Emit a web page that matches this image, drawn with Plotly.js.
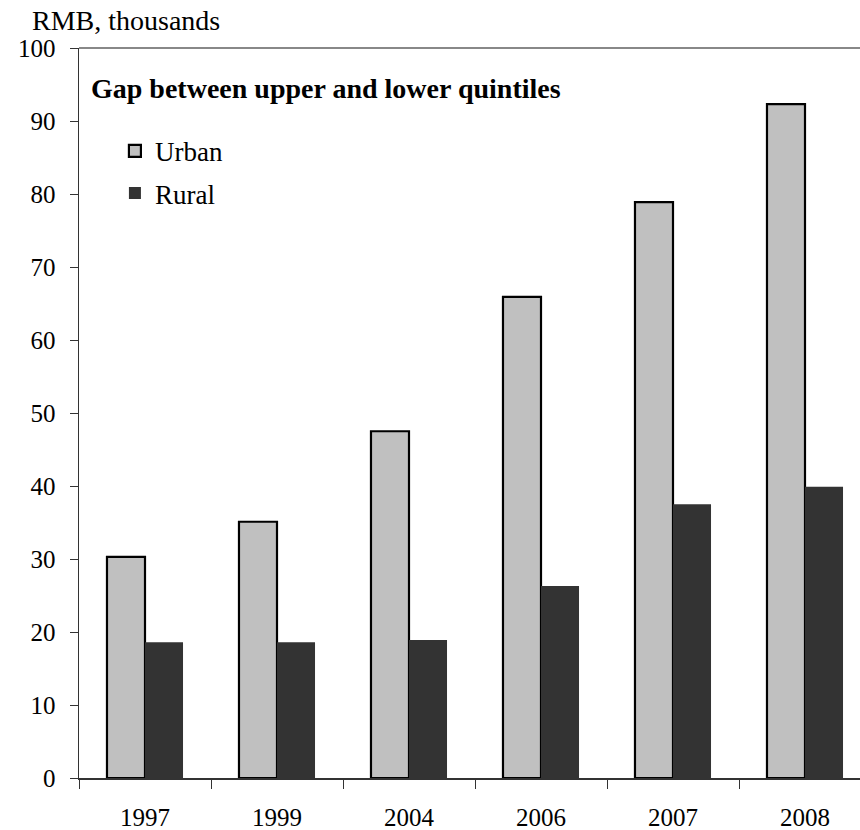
<!DOCTYPE html>
<html>
<head>
<meta charset="utf-8">
<script src="https://cdn.plot.ly/plotly-3.0.1.min.js"></script>
<style>
  html, body { margin: 0; padding: 0; background: #ffffff; }
  #chart { width: 860px; height: 830px; }
</style>
</head>
<body>
<div id="chart"></div>
<script>
// Data (RMB, thousands)
const years = ["1997", "1999", "2004", "2006", "2007", "2008"];
const urbanGap = [30.3, 35.1, 47.5, 65.9, 78.9, 92.3];
const ruralGap = [18.6, 18.6, 18.9, 26.3, 37.5, 39.9];
const yTickValues = [0, 10, 20, 30, 40, 50, 60, 70, 80, 90, 100];

const serif = "Liberation Serif, Times New Roman, serif";

const traces = [
  {
    type: "bar",
    name: "Urban",
    x: years,
    y: urbanGap,
    legendgroup: "u",
    marker: { color: "#c0c0c0", line: { color: "#000000", width: 2.2 } },
    hoverinfo: "x+y+name"
  },
  {
    type: "bar",
    name: "Rural",
    x: years,
    y: ruralGap,
    legendgroup: "r",
    marker: { color: "#333333", line: { color: "#333333", width: 0 } },
    hoverinfo: "x+y+name"
  }
];

const plotLeft = 79, plotRight = 860, catWidth = 132;

const layout = {
  width: 860,
  height: 830,
  paper_bgcolor: "#ffffff",
  plot_bgcolor: "#ffffff",
  margin: { l: plotLeft, r: 860 - plotRight, t: 48, b: 52, pad: 0 },
  font: { family: serif, size: 25, color: "#000000" },
  barmode: "group",
  bargap: 0.424,
  bargroupgap: 0,
  showlegend: true,
  legend: {
    x: 0.046,
    y: 0.892,
    xanchor: "left",
    yanchor: "top",
    bgcolor: "rgba(0,0,0,0)",
    borderwidth: 0,
    traceorder: "grouped",
    tracegroupgap: 4,
    font: { family: serif, size: 27, color: "#000000" }
  },
  title: {
    text: "RMB, thousands",
    x: 32 / 860,
    xref: "container",
    xanchor: "left",
    y: 1 - 20 / 830,
    yref: "container",
    yanchor: "middle",
    font: { family: serif, size: 28, color: "#000000" }
  },
  xaxis: {
    type: "category",
    range: [-0.5, -0.5 + (plotRight - plotLeft) / catWidth],
    showgrid: false,
    zeroline: false,
    showline: true,
    linecolor: "#333333",
    linewidth: 1.5,
    ticks: "outside",
    tickson: "boundaries",
    ticklen: 9,
    tickwidth: 1,
    tickcolor: "#333333",
    ticklabelstandoff: 16,
    tickfont: { family: serif, size: 25, color: "#000000" },
    fixedrange: true
  },
  yaxis: {
    range: [0, 100],
    tickvals: yTickValues,
    ticktext: yTickValues.map(String),
    showgrid: false,
    zeroline: false,
    showline: true,
    linecolor: "#333333",
    linewidth: 1.5,
    ticks: "outside",
    ticklen: 8,
    tickwidth: 1,
    tickcolor: "#333333",
    ticklabelstandoff: 9,
    tickfont: { family: serif, size: 25, color: "#000000" },
    fixedrange: true
  },
  shapes: [
    {
      type: "line",
      xref: "paper", yref: "paper",
      x0: 0, x1: 1, y0: 1, y1: 1,
      line: { color: "#888888", width: 2 }
    }
  ],
  annotations: [
    {
      text: "<b>Gap between upper and lower quintiles</b>",
      xref: "paper", yref: "paper",
      x: (89 - plotLeft) / (plotRight - plotLeft),
      y: (778 - 88) / 730,
      xanchor: "left", yanchor: "middle",
      showarrow: false,
      font: { family: serif, size: 28, color: "#000000" }
    }
  ]
};

Plotly.newPlot("chart", traces, layout, { displayModeBar: false, staticPlot: true });
</script>
</body>
</html>
